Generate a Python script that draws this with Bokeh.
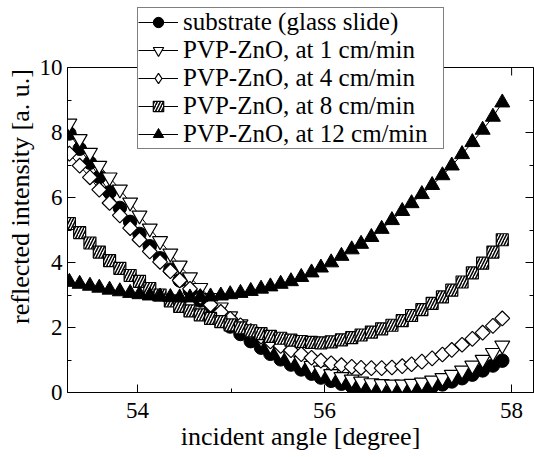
import numpy as np
from bokeh.plotting import figure
from bokeh.models import Range1d, LinearAxis, SingleIntervalTicker, Legend, LegendItem, Span, Title
from bokeh.embed import file_html
from bokeh.resources import INLINE

angles = [53.27, 53.38, 53.49, 53.59, 53.70, 53.81, 53.92, 54.02, 54.13, 54.24,
          54.35, 54.45, 54.56, 54.67, 54.78, 54.89, 54.99, 55.10, 55.21, 55.32,
          55.42, 55.53, 55.64, 55.75, 55.86, 55.96, 56.07, 56.18, 56.29, 56.39,
          56.50, 56.61, 56.72, 56.83, 56.93, 57.04, 57.15, 57.26, 57.36, 57.47,
          57.58, 57.69, 57.80, 57.90]

substrate = [7.97, 7.50, 7.07, 6.63, 6.16, 5.68, 5.25, 4.88, 4.50, 4.13,
             3.78, 3.45, 3.13, 2.83, 2.55, 2.28, 2.03, 1.80, 1.58, 1.38,
             1.19, 1.02, 0.86, 0.71, 0.58, 0.46, 0.36, 0.27, 0.19, 0.13,
             0.08, 0.05, 0.04, 0.05, 0.08, 0.12, 0.18, 0.25, 0.34, 0.44,
             0.55, 0.68, 0.83, 0.98]

zno_1 = [8.28, 7.80, 7.38, 6.98, 6.62, 6.25, 5.85, 5.45, 5.05, 4.66,
         4.28, 3.91, 3.55, 3.22, 2.91, 2.62, 2.35, 2.10, 1.87, 1.66,
         1.46, 1.28, 1.12, 0.97, 0.82, 0.68, 0.57, 0.48, 0.40, 0.34,
         0.29, 0.26, 0.25, 0.25, 0.27, 0.31, 0.37, 0.45, 0.55, 0.68,
         0.83, 1.01, 1.22, 1.45]

zno_4 = [7.35, 6.98, 6.62, 6.24, 5.83, 5.45, 5.06, 4.70, 4.34, 4.02,
         3.73, 3.45, 3.19, 2.94, 2.70, 2.48, 2.27, 2.07, 1.89, 1.72,
         1.57, 1.43, 1.30, 1.18, 1.07, 0.98, 0.90, 0.84, 0.79, 0.76,
         0.75, 0.75, 0.77, 0.81, 0.87, 0.95, 1.05, 1.17, 1.31, 1.47,
         1.65, 1.84, 2.05, 2.28]

zno_8 = [5.20, 4.92, 4.60, 4.32, 4.06, 3.82, 3.60, 3.42, 3.20, 3.00,
         2.82, 2.65, 2.51, 2.39, 2.28, 2.18, 2.08, 1.99, 1.90, 1.81,
         1.73, 1.67, 1.61, 1.57, 1.54, 1.53, 1.56, 1.62, 1.69, 1.77,
         1.86, 1.96, 2.07, 2.21, 2.37, 2.55, 2.74, 2.94, 3.15, 3.40,
         3.68, 3.98, 4.32, 4.70]

zno_12 = [3.40, 3.34, 3.28, 3.22, 3.16, 3.11, 3.06, 3.02, 2.98, 2.95,
          2.93, 2.92, 2.92, 2.93, 2.95, 2.98, 3.02, 3.06, 3.12, 3.19,
          3.26, 3.34, 3.42, 3.55, 3.69, 3.84, 4.00, 4.20, 4.40, 4.57,
          4.78, 5.03, 5.30, 5.58, 5.82, 6.10, 6.38, 6.68, 6.98, 7.33,
          7.70, 8.08, 8.48, 8.92]

labels = ["substrate (glass slide)", "PVP-ZnO, at 1 cm/min", "PVP-ZnO, at 4 cm/min",
          "PVP-ZnO, at 8 cm/min", "PVP-ZnO, at 12 cm/min"]

x_major = [54, 56, 58]
x_minor = [55, 57]
y_top = 10

FONT = "Liberation Serif"
PX_PER_Y = 32.5   # screen pixels per y unit
FRAME_H = 392     # frame height in px (frame spans from canvas top)

p = figure(width=534, height=457, output_backend="svg", toolbar_location=None,
           x_range=Range1d(53.25, 58.234), y_range=Range1d(0, FRAME_H / PX_PER_Y),
           min_border_left=67, min_border_right=1, min_border_top=0, min_border_bottom=457 - FRAME_H,
           background_fill_color="white", border_fill_color="white")
p.xgrid.visible = False
p.ygrid.visible = False
p.outline_line_color = None

p.xaxis.ticker = SingleIntervalTicker(interval=2, num_minor_ticks=2)
p.yaxis.ticker = SingleIntervalTicker(interval=2, num_minor_ticks=2)
p.yaxis.bounds = (0, y_top)
p.xaxis.axis_label = "incident angle [degree]"

right_ax = LinearAxis(ticker=SingleIntervalTicker(interval=2, num_minor_ticks=2),
                      bounds=(0, y_top), major_label_text_font_size="1px",
                      major_label_text_color=None, major_label_standoff=0)
p.add_layout(right_ax, "right")

for ax in p.xaxis + p.yaxis:
    ax.major_tick_in = 8
    ax.major_tick_out = 0
    ax.minor_tick_in = 4
    ax.minor_tick_out = 0
    ax.axis_line_color = "black"
    ax.major_tick_line_color = "black"
    ax.minor_tick_line_color = "black"
    ax.major_label_text_font = FONT
    ax.axis_label_text_font = FONT
    ax.axis_label_text_font_style = "normal"
    ax.axis_label_text_color = "black"
    ax.axis_label_text_font_size = "26px"

for ax in [p.below[0], p.left[0]]:
    ax.major_label_text_font_size = "23px"
    ax.major_label_text_color = "black"
p.below[0].major_label_standoff = 10
p.below[0].axis_label_standoff = 1
p.left[0].major_label_standoff = 5

ytitle = Title(text="reflected intensity [a. u.]", align="center", offset=-52,
               text_font=FONT, text_font_size="26px", text_font_style="normal",
               text_color="black", standoff=3)
p.add_layout(ytitle, "left")

# top edge of the box at y = 10, with inward ticks
p.add_layout(Span(location=y_top, dimension="width", line_color="black", line_width=1))
p.segment(x0=x_major, y0=[y_top] * 3, x1=x_major, y1=[y_top - 8 / PX_PER_Y] * 3,
          line_color="black", line_width=1)
p.segment(x0=x_minor, y0=[y_top] * 2, x1=x_minor, y1=[y_top - 4 / PX_PER_Y] * 2,
          line_color="black", line_width=1)

items = []
l0 = p.line(angles, substrate, line_color="black", line_width=1)
s0 = p.scatter(angles, substrate, marker="circle", size=13.5, fill_color="black", line_color="black")
items.append(LegendItem(label=labels[0], renderers=[l0, s0]))

l1 = p.line(angles, zno_1, line_color="black", line_width=1)
s1 = p.scatter(angles, zno_1, marker="inverted_triangle", size=15, fill_color="white",
               line_color="black", line_width=1.2)
items.append(LegendItem(label=labels[1], renderers=[l1, s1]))

l2 = p.line(angles, zno_4, line_color="black", line_width=1)
s2 = p.scatter(angles, zno_4, marker="square", angle=np.pi / 4, size=10.5, fill_color="white",
               line_color="black", line_width=1.2)
# legend key for the diamonds (hidden in the plot area)
s2_key = p.scatter(angles, zno_4, marker="diamond", size=16, fill_color="white",
                   line_color="black", line_width=1.2, visible=False)
items.append(LegendItem(label=labels[2], renderers=[l2, s2_key]))

l3 = p.line(angles, zno_8, line_color="black", line_width=1)
s3 = p.scatter(angles, zno_8, marker="square", size=12, fill_color="white",
               line_color="black", line_width=1.2, hatch_pattern="/", hatch_scale=6,
               hatch_weight=1.5, hatch_color="black")
items.append(LegendItem(label=labels[3], renderers=[l3, s3]))

l4 = p.line(angles, zno_12, line_color="black", line_width=1)
s4 = p.scatter(angles, zno_12, marker="triangle", size=15, fill_color="black", line_color="black")
items.append(LegendItem(label=labels[4], renderers=[l4, s4]))

legend = Legend(items=items, location=(70, 243), orientation="vertical",
                label_text_font=FONT, label_text_font_size="25px", label_text_color="black",
                border_line_color="black", border_line_width=1, background_fill_color="white",
                background_fill_alpha=1.0, padding=0, spacing=0, margin=0,
                glyph_width=40, glyph_height=26, label_height=26, label_width=260,
                label_standoff=5, inactive_fill_alpha=0)
p.add_layout(legend, "center")

open("out.html", "w").write(file_html(p, INLINE))
